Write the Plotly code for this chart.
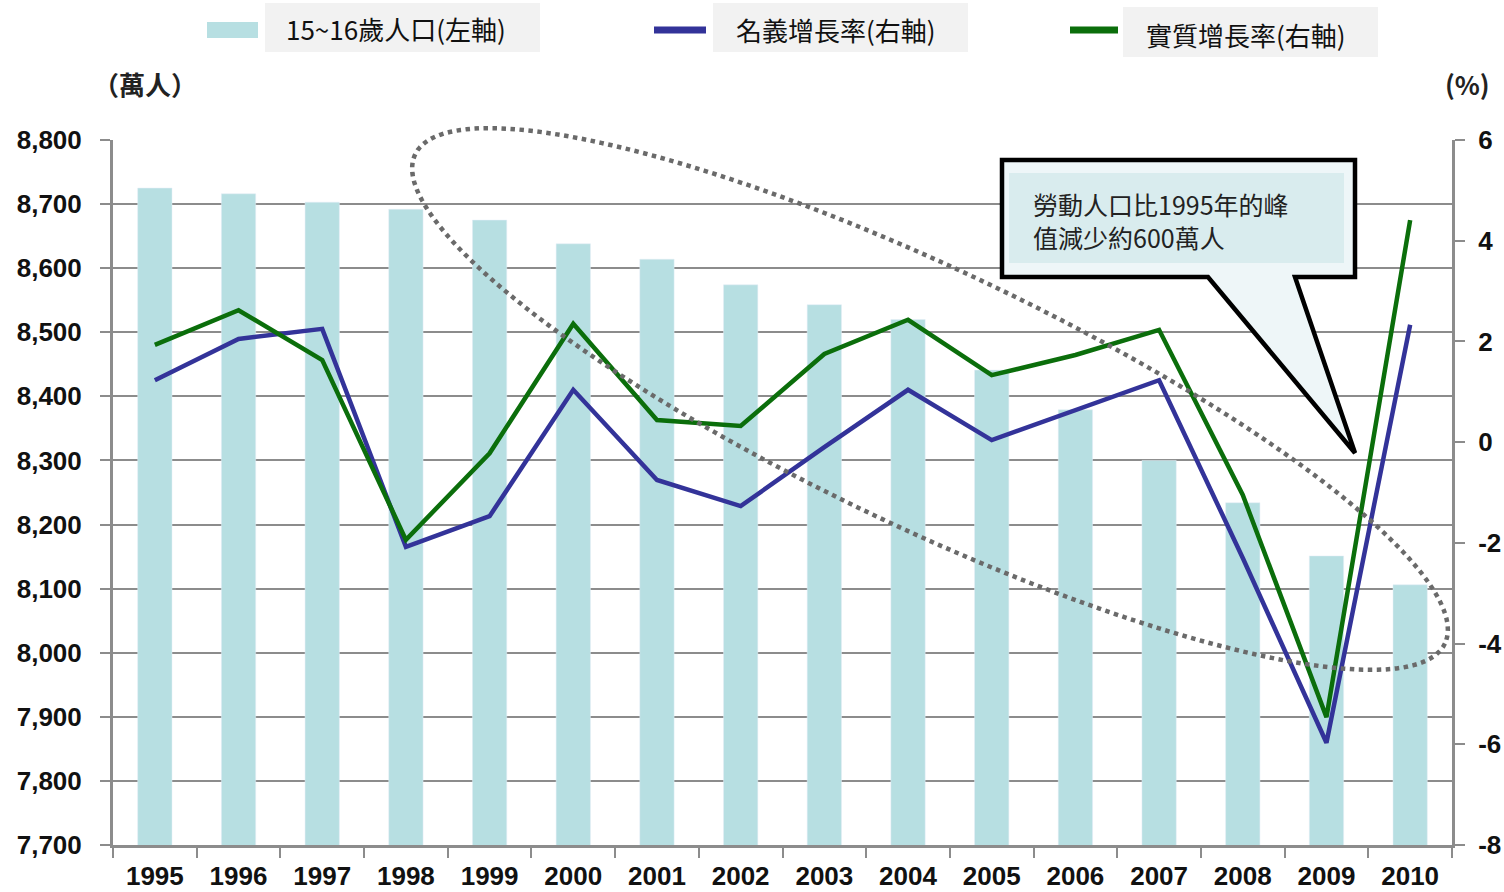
import numpy as np
import plotly.graph_objects as go

years = ["1995", "1996", "1997", "1998", "1999", "2000", "2001", "2002",
         "2003", "2004", "2005", "2006", "2007", "2008", "2009", "2010"]
population = [8725, 8716, 8703, 8692, 8675, 8638, 8614, 8574,
              8543, 8520, 8441, 8379, 8300, 8234, 8151, 8106]
nominal_growth = [1.23, 2.05, 2.25, -2.08, -1.47, 1.04, -0.75, -1.27,
                  -0.10, 1.04, 0.04, 0.64, 1.23, -2.30, -5.97, 2.33]
real_growth = [1.93, 2.62, 1.63, -1.94, -0.22, 2.35, 0.44, 0.32,
               1.75, 2.43, 1.33, 1.73, 2.23, -1.05, -5.46, 4.41]

left_ticks = list(range(7700, 8801, 100))
right_ticks = list(range(-8, 7, 2))

BAR_C = "#b7dfe2"
BLUE = "#333399"
GREEN = "#0b6e0b"
GRID = "#8c8c8c"

W, H = 1504, 892
PX0, PX1, PY0, PY1 = 113, 1452, 140, 845  # plot area on screen
L, T = PX0, PY0
R, B = W - PX1, H - PY1


def px(x):
    return (x - PX0) / (PX1 - PX0)


def py(y):
    return (PY1 - y) / (PY1 - PY0)


fig = go.Figure()
fig.add_trace(go.Bar(x=years, y=population, marker_color=BAR_C,
                     name="15~16歲人口(左軸)", yaxis="y"))
fig.add_trace(go.Scatter(x=years, y=nominal_growth, mode="lines",
                         line=dict(color=BLUE, width=4.5),
                         name="名義增長率(右軸)", yaxis="y2"))
fig.add_trace(go.Scatter(x=years, y=real_growth, mode="lines",
                         line=dict(color=GREEN, width=4.5),
                         name="實質增長率(右軸)", yaxis="y2"))

tickfont = dict(family="Liberation Sans", size=26, color="#111111", weight="bold")

fig.update_layout(
    width=W, height=H,
    margin=dict(l=L, r=R, t=T, b=B, autoexpand=False),
    plot_bgcolor="white", paper_bgcolor="white",
    showlegend=False,
    bargap=0.59,
    xaxis=dict(type="category", showline=True, linecolor=GRID, linewidth=3,
               ticks="outside", tickson="boundaries", ticklen=10, tickwidth=2,
               tickcolor=GRID, tickfont=tickfont, showgrid=False,
               automargin=False, ticklabelstandoff=6),
    yaxis=dict(range=[7700, 8800], tickvals=left_ticks,
               ticktext=[f"{v:,}" for v in left_ticks],
               showline=True, linecolor=GRID, linewidth=3,
               ticks="outside", ticklen=10, tickwidth=2, tickcolor=GRID,
               showgrid=True, gridcolor=GRID, gridwidth=2,
               tickfont=tickfont, ticklabelstandoff=13, zeroline=False,
               automargin=False),
    yaxis2=dict(range=[-8, 6], tickvals=right_ticks,
                ticktext=[str(v) for v in right_ticks],
                overlaying="y", side="right",
                showline=True, linecolor=GRID, linewidth=3,
                ticks="outside", ticklen=10, tickwidth=2, tickcolor=GRID,
                showgrid=False, zeroline=False,
                tickfont=tickfont, ticklabelstandoff=8, automargin=False),
)

shapes = []
annotations = []

# dotted ellipse highlighting the downward trend
cx, cy, a, b, th = 930, 399, 570, 129, np.deg2rad(25.4)
t = np.linspace(0, 2 * np.pi, 240)
ex = cx + a * np.cos(t) * np.cos(th) - b * np.sin(t) * np.sin(th)
ey = cy + a * np.cos(t) * np.sin(th) + b * np.sin(t) * np.cos(th)
path = "M " + " L ".join(f"{px(x):.5f},{py(y):.5f}" for x, y in zip(ex, ey)) + " Z"
shapes.append(dict(type="path", xref="paper", yref="paper", path=path,
                   line=dict(color="#6a6a6a", width=4.5, dash="dot"), layer="above"))

# callout box
call = [(1002, 160), (1355, 160), (1355, 277), (1295, 277), (1355, 453),
        (1208, 277), (1002, 277)]
cpath = "M " + " L ".join(f"{px(x):.5f},{py(y):.5f}" for x, y in call) + " Z"
shapes.append(dict(type="path", xref="paper", yref="paper", path=cpath,
                   fillcolor="#eef6f8", line=dict(color="black", width=4.5), layer="above"))
shapes.append(dict(type="rect", xref="paper", yref="paper",
                   x0=px(1009), x1=px(1344), y0=py(263), y1=py(173),
                   fillcolor="#d9ecee", line=dict(width=0), layer="above"))
annotations.append(dict(xref="paper", yref="paper", x=px(1031), y=py(220),
                        xanchor="left", yanchor="middle", align="left", showarrow=False,
                        text="勞動人口比1995年的峰<br>值減少約600萬人",
                        font=dict(family="Noto Sans CJK TC", size=25, color="#222222")))

# custom legend
legfont = dict(family="Noto Sans CJK TC", size=26, color="#111111")
shapes.append(dict(type="rect", xref="paper", yref="paper", x0=px(207), x1=px(258),
                   y0=py(38), y1=py(22), fillcolor=BAR_C, line=dict(width=0)))
leg_boxes = [((265, 3, 540, 52), 284, 28, "15~16歲人口(左軸)"),
             ((713, 3, 968, 52), 734, 29, "名義增長率(右軸)"),
             ((1123, 7, 1378, 57), 1144, 34, "實質增長率(右軸)")]
for (x0, y0, x1, y1), tx, ty, txt in leg_boxes:
    shapes.append(dict(type="rect", xref="paper", yref="paper", x0=px(x0), x1=px(x1),
                       y0=py(y1), y1=py(y0), fillcolor="#f2f2f2", line=dict(width=0)))
    annotations.append(dict(xref="paper", yref="paper", x=px(tx), y=py(ty),
                            xanchor="left", yanchor="middle", showarrow=False,
                            text=txt, font=legfont))
for (x0, x1, yy, col) in [(654, 706, 30, BLUE), (1070, 1118, 30, GREEN)]:
    shapes.append(dict(type="line", xref="paper", yref="paper", x0=px(x0), x1=px(x1),
                       y0=py(yy), y1=py(yy), line=dict(color=col, width=7)))

# axis unit labels
unitfont = dict(family="Noto Sans CJK TC", size=26, color="#222222", weight="bold")
annotations.append(dict(xref="paper", yref="paper", x=px(145), y=py(83),
                        xanchor="center", yanchor="middle", showarrow=False,
                        text="（萬人）", font=unitfont))
annotations.append(dict(xref="paper", yref="paper", x=px(1467), y=py(83),
                        xanchor="center", yanchor="middle", showarrow=False,
                        text="(%)", font=unitfont))

fig.update_layout(shapes=shapes, annotations=annotations)
fig.write_html("out.html",
               config={"displayModeBar": False},
               post_script="document.body.style.margin='0';"
                           "document.body.style.overflow='hidden';")
